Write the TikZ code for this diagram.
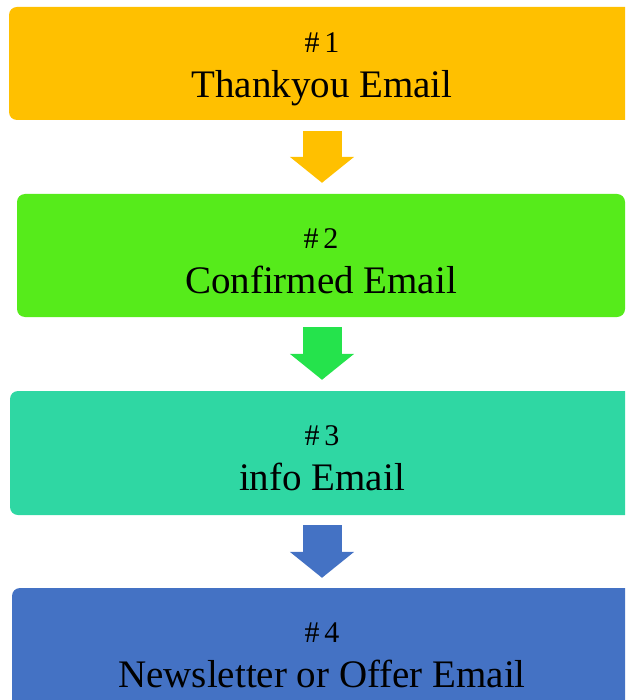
\documentclass[tikz,border=0pt]{standalone}
\usepackage{fontspec}
\setmainfont{Liberation Serif}
\usetikzlibrary{arrows.meta}

\definecolor{mailone}{HTML}{FFC000}
\definecolor{mailtwo}{HTML}{56EB1B}
\definecolor{arrowtwo}{HTML}{25E34C}
\definecolor{mailthree}{HTML}{2FD7A3}
\definecolor{mailfour}{HTML}{4472C4}

\begin{document}
\begin{tikzpicture}[x=1pt, y=-1pt,
    mailbox/.style={rounded corners=8pt, inner sep=0pt, align=center,
        font=\fontsize{39}{45}\selectfont},
    flow/.style={line width=39pt, -{Triangle[width=63pt,length=26pt]}}]
    % Rahmen
    \useasboundingbox (0,0) rectangle (625,700);
    \clip (0,0) rectangle (625,700);

    % Nummer ueber dem Text
    \def\nr#1{{\fontsize{30}{45}\selectfont\rule{0pt}{31pt}\#\,#1}}

    % Kaesten
    \node[mailbox, fill=mailone, minimum width=626pt, minimum height=113pt]
        (thanks) at (322,63.5) {\nr{1}\\Thankyou Email};
    \node[mailbox, fill=mailtwo, minimum width=608pt, minimum height=123pt]
        (confirmed) at (321,255.5) {\nr{2}\\Confirmed Email};
    \node[mailbox, fill=mailthree, minimum width=624pt, minimum height=124pt]
        (info) at (322,453) {\nr{3}\\info Email};
    \node[mailbox, fill=mailfour, minimum width=620pt, minimum height=124pt]
        (offer) at (322,650) {\nr{4}\\Newsletter or Offer Email};

    % Pfeile
    \draw[flow, mailone] ([yshift=-11pt]thanks.south)
        -- ([yshift=11pt]thanks.south |- confirmed.north);
    \draw[flow, arrowtwo] ([yshift=-10pt]thanks.south |- confirmed.south)
        -- ([yshift=11pt]thanks.south |- info.north);
    \draw[flow, mailfour] ([yshift=-10pt]info.south)
        -- ([yshift=10pt]offer.north);
\end{tikzpicture}
\end{document}
